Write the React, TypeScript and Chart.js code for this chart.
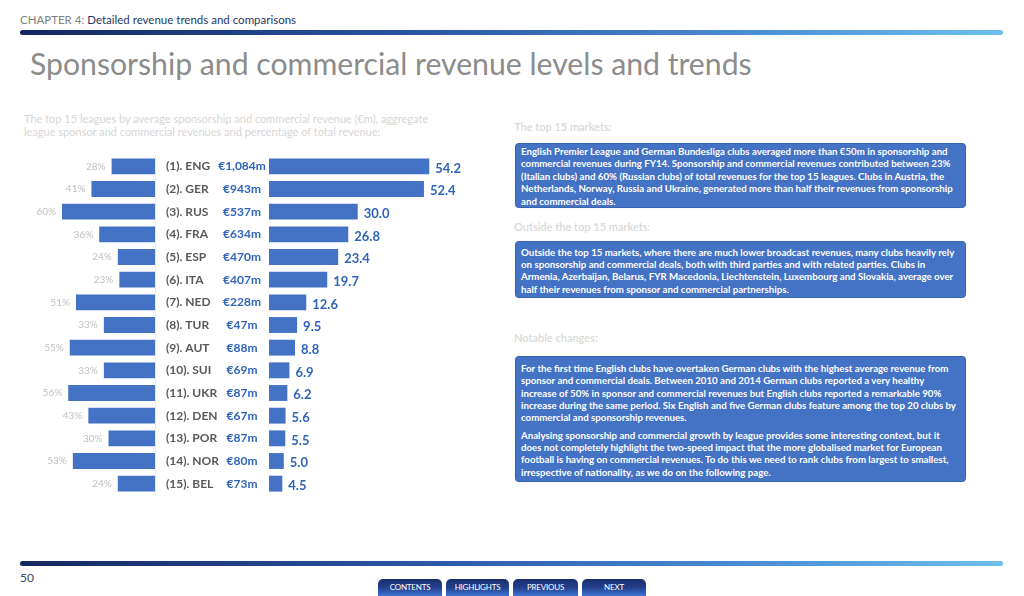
import React, { useEffect, useRef } from "react";
import { Chart, registerables } from "chart.js";
Chart.register(...registerables);

const leagues = [
  "(1). ENG", "(2). GER", "(3). RUS", "(4). FRA", "(5). ESP",
  "(6). ITA", "(7). NED", "(8). TUR", "(9). AUT", "(10). SUI",
  "(11). UKR", "(12). DEN", "(13). POR", "(14). NOR", "(15). BEL",
];
const aggregateRevenue = [
  "€1,084m", "€943m", "€537m", "€634m", "€470m",
  "€407m", "€228m", "€47m", "€88m", "€69m",
  "€87m", "€67m", "€87m", "€80m", "€73m",
];
const shareOfTotal = [28, 41, 60, 36, 24, 23, 51, 33, 55, 33, 56, 43, 30, 53, 24];
const averageRevenue = [54.2, 52.4, 30.0, 26.8, 23.4, 19.7, 12.6, 9.5, 8.8, 6.9, 6.2, 5.6, 5.5, 5.0, 4.5];

const BAR = "#4472C4";
const FONT = "Lato, 'Open Sans', sans-serif";

const box1 = [
  "English Premier League and German Bundesliga clubs averaged more than €50m in sponsorship and",
  "commercial revenues during FY14. Sponsorship and commercial revenues contributed between 23%",
  "(Italian clubs) and 60% (Russian clubs) of total revenues for the top 15 leagues. Clubs in Austria, the",
  "Netherlands, Norway, Russia and Ukraine, generated more than half their revenues from sponsorship",
  "and commercial deals.",
];
const box2 = [
  "Outside the top 15 markets, where there are much lower broadcast revenues, many clubs heavily rely",
  "on sponsorship and commercial deals, both with third parties and with related parties. Clubs in",
  "Armenia, Azerbaijan, Belarus, FYR Macedonia, Liechtenstein, Luxembourg and Slovakia, average over",
  "half their revenues from sponsor and commercial partnerships.",
];
const box3a = [
  "For the first time English clubs have overtaken German clubs with the highest average revenue from",
  "sponsor and commercial deals. Between 2010 and 2014 German clubs reported a very healthy",
  "increase of 50% in sponsor and commercial revenues but English clubs reported a remarkable 90%",
  "increase during the same period. Six English and five German clubs feature among the top 20 clubs by",
  "commercial and sponsorship revenues.",
];
const box3b = [
  "Analysing sponsorship and commercial growth by league provides some interesting context, but it",
  "does not completely highlight the two-speed impact that the more globalised market for European",
  "football is having on commercial revenues. To do this we need to rank clubs from largest to smallest,",
  "irrespective of nationality, as we do on the following page.",
];
const buttons = ["CONTENTS", "HIGHLIGHTS", "PREVIOUS", "NEXT"];

const leftLabels = {
  id: "leftLabels",
  afterDatasetsDraw(chart: any) {
    const { ctx, chartArea } = chart;
    const meta = chart.getDatasetMeta(0);
    ctx.save();
    ctx.strokeStyle = "#e8e8e8";
    ctx.lineWidth = 1;
    ctx.beginPath();
    ctx.moveTo(chartArea.right + 0.5, chartArea.top);
    ctx.lineTo(chartArea.right + 0.5, chartArea.bottom);
    ctx.stroke();
    ctx.font = `10px ${FONT}`;
    ctx.fillStyle = "#bfbfbf";
    ctx.textAlign = "right";
    ctx.textBaseline = "middle";
    meta.data.forEach((el: any, i: number) => {
      ctx.fillText(`${shareOfTotal[i]}%`, el.x - 6, el.y);
    });
    ctx.restore();
  },
};

const rightLabels = {
  id: "rightLabels",
  afterDatasetsDraw(chart: any) {
    const { ctx, chartArea } = chart;
    const meta = chart.getDatasetMeta(0);
    ctx.save();
    ctx.textBaseline = "middle";
    meta.data.forEach((el: any, i: number) => {
      ctx.font = `bold 12px ${FONT}`;
      ctx.fillStyle = "#595959";
      ctx.textAlign = "left";
      ctx.fillText(leagues[i], chartArea.left - 103, el.y);
      ctx.fillStyle = "#2f64b9";
      ctx.textAlign = "center";
      ctx.fillText(aggregateRevenue[i], chartArea.left - 27, el.y);
      ctx.font = `bold 13px ${FONT}`;
      ctx.textAlign = "left";
      ctx.fillText(averageRevenue[i].toFixed(1), el.x + 6, el.y + 2);
    });
    ctx.restore();
  },
};

function BarCharts() {
  const leftRef = useRef<HTMLCanvasElement>(null);
  const rightRef = useRef<HTMLCanvasElement>(null);
  useEffect(() => {
    const common: any = {
      indexAxis: "y",
      animation: false,
      responsive: false,
      maintainAspectRatio: false,
      plugins: { legend: { display: false }, tooltip: { enabled: false } },
    };
    const left = new Chart(leftRef.current!, {
      type: "bar",
      data: {
        labels: leagues,
        datasets: [{ data: shareOfTotal, backgroundColor: BAR, barPercentage: 0.7, categoryPercentage: 1 }],
      },
      options: {
        ...common,
        layout: { padding: { left: 0, right: 5, top: 0, bottom: 0 } },
        scales: {
          x: { reverse: true, min: 0, max: 100, display: false },
          y: { display: false },
        },
      },
      plugins: [leftLabels],
    });
    const right = new Chart(rightRef.current!, {
      type: "bar",
      data: {
        labels: leagues,
        datasets: [{ data: averageRevenue, backgroundColor: BAR, barPercentage: 0.7, categoryPercentage: 1 }],
      },
      options: {
        ...common,
        layout: { padding: { left: 114, right: 24, top: 0, bottom: 0 } },
        scales: {
          x: { min: 0, max: 70, display: false },
          y: { display: false },
        },
      },
      plugins: [rightLabels],
    });
    return () => {
      left.destroy();
      right.destroy();
    };
  }, []);
  return (
    <>
      <canvas ref={leftRef} width={160} height={340} style={{ position: "absolute", left: 0, top: 155, width: 160, height: 340 }} />
      <canvas ref={rightRef} width={345} height={340} style={{ position: "absolute", left: 155, top: 155, width: 345, height: 340 }} />
    </>
  );
}

function TextBox({ top, height, padTop, paras }: { top: number; height: number; padTop: number; paras: string[][] }) {
  return (
    <div
      style={{
        position: "absolute",
        left: 515,
        top,
        width: 451,
        height,
        boxSizing: "border-box",
        background: BAR,
        border: "1px solid #3b64b0",
        borderRadius: 4,
        boxShadow: "0 0 1px rgba(0,0,0,0.3)",
        color: "#ffffff",
        fontFamily: FONT,
        fontWeight: 700,
        fontSize: 9.7,
        lineHeight: "12.4px",
        padding: `${padTop}px 0 0 5px`,
        whiteSpace: "pre",
      }}
    >
      {paras.map((p, i) => (
        <div key={i} style={{ marginTop: i === 0 ? 0 : 4.7 }}>
          {p.join("\n")}
        </div>
      ))}
    </div>
  );
}

export default function App() {
  const heading: React.CSSProperties = {
    position: "absolute",
    fontFamily: FONT,
    fontSize: 11,
    fontWeight: 600,
    color: "#d9d9d9",
    whiteSpace: "nowrap",
    lineHeight: "12px",
  };
  return (
    <div style={{ position: "absolute", left: 0, top: 0, width: 1024, height: 596, overflow: "hidden", background: "#fff" }}>
      <div style={{ position: "absolute", left: 20, top: 13, fontFamily: FONT, fontSize: 11.5, lineHeight: "14px", whiteSpace: "nowrap" }}>
        <span style={{ color: "#808080" }}>CHAPTER 4: </span>
        <span style={{ color: "#1f3864" }}>Detailed revenue trends and comparisons</span>
      </div>
      <div
        style={{
          position: "absolute", left: 20, top: 30, width: 983, height: 5, borderRadius: 3,
          background: "linear-gradient(90deg, #14275e 0%, #2a55a3 40%, #4b8fd6 75%, #6cc0ec 100%)",
        }}
      />
      <div style={{ position: "absolute", left: 30, top: 47, fontFamily: FONT, fontSize: 30.2, lineHeight: "32px", color: "#8c8c8c", whiteSpace: "nowrap" }}>
        Sponsorship and commercial revenue levels and trends
      </div>
      <div style={{ ...heading, left: 24, top: 113, fontWeight: 400, lineHeight: "12.5px", color: "#d6d6d6" }}>
        The top 15 leagues by average sponsorship and commercial revenue (€m), aggregate
        <br />
        league sponsor and commercial revenues and percentage of total revenue:
      </div>
      <BarCharts />
      <div style={{ ...heading, left: 514, top: 121 }}>The top 15 markets:</div>
      <TextBox top={143} height={65} padTop={1} paras={[box1]} />
      <div style={{ ...heading, left: 514, top: 221 }}>Outside the top 15 markets:</div>
      <TextBox top={241} height={57} padTop={3.5} paras={[box2]} />
      <div style={{ ...heading, left: 514, top: 332 }}>Notable changes:</div>
      <TextBox top={356} height={126} padTop={4.8} paras={[box3a, box3b]} />
      <div
        style={{
          position: "absolute", left: 20, top: 561, width: 983, height: 5, borderRadius: 3,
          background: "linear-gradient(90deg, #14275e 0%, #2a55a3 40%, #4b8fd6 75%, #6cc0ec 100%)",
        }}
      />
      <div style={{ position: "absolute", left: 20, top: 570, fontFamily: FONT, fontSize: 12, color: "#3a4670" }}>50</div>
      {buttons.map((b, i) => {
        const lefts = [378, 446, 513, 582];
        const widths = [64, 63, 65, 64];
        return (
          <div
            key={b}
            style={{
              position: "absolute", left: lefts[i], top: 579, width: widths[i], height: 17,
              borderRadius: "5px 5px 0 0",
              background: "linear-gradient(180deg, #1a2c6a 0%, #24408c 50%, #3d74d2 100%)",
              color: "#fff", fontFamily: FONT, fontSize: 8, lineHeight: "17px", textAlign: "center",
              letterSpacing: -0.2,
            }}
          >
            {b}
          </div>
        );
      })}
    </div>
  );
}
